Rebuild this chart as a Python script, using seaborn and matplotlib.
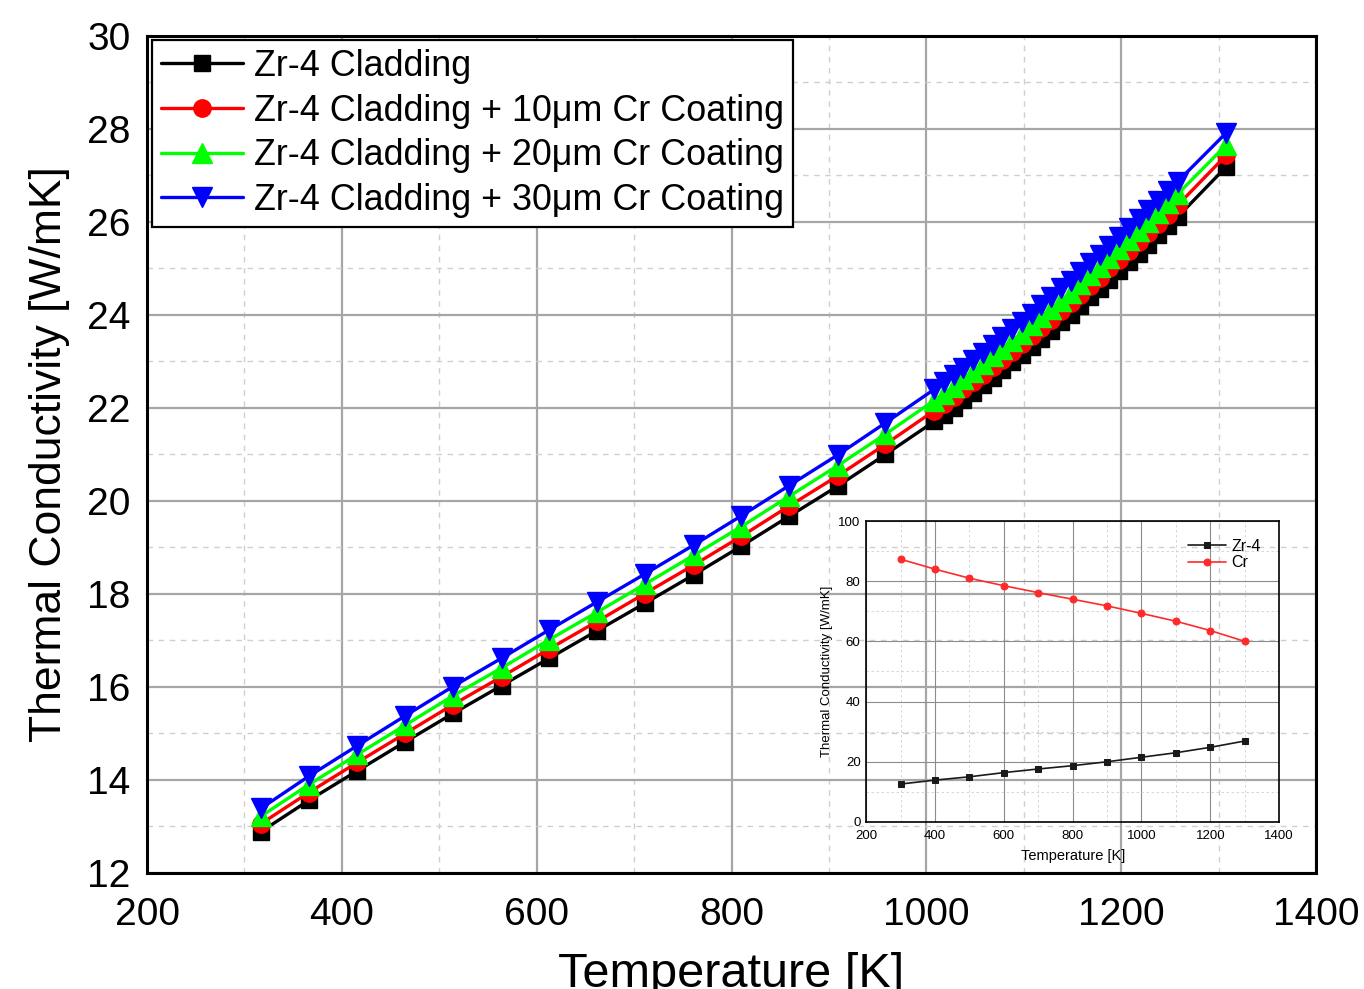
import matplotlib
matplotlib.use("Agg")
import matplotlib.pyplot as plt
from matplotlib.ticker import MultipleLocator
import seaborn as sns
import pandas as pd

# ---- main chart data: thermal conductivity of Zr-4 cladding with Cr coatings ----
temperature_k = [
    317, 366, 416, 465, 514, 564, 613, 662, 711, 761, 810, 859, 909, 958,
    1008, 1018, 1028, 1038, 1048, 1058, 1068, 1078, 1088, 1098, 1108, 1118, 1128,
    1138, 1148, 1158, 1168, 1178, 1188, 1198, 1208, 1218, 1228, 1238, 1248, 1258,
    1308,
]
zr4_cladding = [
    12.89, 13.56, 14.20, 14.82, 15.43, 16.03, 16.62, 17.21, 17.80, 18.41, 19.03, 19.67, 20.32, 21.00,
    21.71, 21.86, 22.01, 22.17, 22.33, 22.49, 22.65, 22.81, 22.98, 23.14, 23.31, 23.49, 23.66,
    23.84, 24.01, 24.19, 24.38, 24.56, 24.75, 24.94, 25.13, 25.32, 25.51, 25.71, 25.91, 26.11,
    27.19,
]
cr_10um = [
    13.06, 13.73, 14.38, 15.00, 15.62, 16.22, 16.82, 17.41, 18.01, 18.62, 19.24, 19.89, 20.54, 21.22,
    21.94, 22.09, 22.24, 22.40, 22.56, 22.72, 22.88, 23.04, 23.21, 23.38, 23.55, 23.73, 23.90,
    24.08, 24.25, 24.43, 24.62, 24.80, 25.00, 25.19, 25.38, 25.57, 25.76, 25.96, 26.16, 26.36,
    27.44,
]
cr_20um = [
    13.22, 13.90, 14.55, 15.18, 15.81, 16.41, 17.02, 17.61, 18.21, 18.83, 19.45, 20.10, 20.76, 21.44,
    22.16, 22.31, 22.46, 22.62, 22.78, 22.95, 23.11, 23.27, 23.44, 23.60, 23.78, 23.96, 24.13,
    24.31, 24.48, 24.67, 24.86, 25.04, 25.23, 25.42, 25.62, 25.81, 26.00, 26.20, 26.40, 26.60,
    27.66,
]
cr_30um = [
    13.39, 14.08, 14.74, 15.38, 16.01, 16.62, 17.23, 17.83, 18.43, 19.05, 19.68, 20.33, 20.99, 21.68,
    22.40, 22.55, 22.70, 22.87, 23.03, 23.19, 23.36, 23.52, 23.69, 23.86, 24.03, 24.21, 24.38,
    24.57, 24.74, 24.92, 25.11, 25.30, 25.49, 25.68, 25.87, 26.07, 26.26, 26.46, 26.66, 26.87,
    27.92,
]
series_labels = [
    "Zr-4 Cladding",
    "Zr-4 Cladding + 10\u03bcm Cr Coating",
    "Zr-4 Cladding + 20\u03bcm Cr Coating",
    "Zr-4 Cladding + 30\u03bcm Cr Coating",
]

# ---- inset data: bulk conductivity of the two materials ----
inset_temperature_k = [300, 400, 500, 600, 700, 800, 900, 1000, 1100, 1200, 1300]
inset_zr4 = [12.6, 13.9, 15.0, 16.4, 17.6, 18.7, 20.0, 21.5, 23.0, 24.8, 26.9]
inset_cr = [87.3, 84.0, 81.0, 78.5, 76.2, 74.0, 71.8, 69.3, 66.7, 63.6, 60.0]

sns.set_style("white")
plt.rcParams["font.family"] = ["Liberation Sans", "DejaVu Sans"]
plt.rcParams["text.color"] = "black"
plt.rcParams["axes.labelcolor"] = "black"
plt.rcParams["xtick.color"] = "black"
plt.rcParams["ytick.color"] = "black"

fig = plt.figure(figsize=(13.64, 9.89), dpi=100)
ax = fig.add_axes([0.1078, 0.1173, 0.8570, 0.8463])

styles = [
    ("#000000", "s", 11.5),
    ("#FF0000", "o", 12.5),
    ("#00FF00", "^", 14.0),
    ("#0000FF", "v", 14.0),
]
values = [zr4_cladding, cr_10um, cr_20um, cr_30um]

for label, ys, (color, marker, ms) in zip(series_labels, values, styles):
    df = pd.DataFrame({"T": temperature_k, "k": ys})
    sns.lineplot(
        data=df, x="T", y="k", ax=ax, color=color, linewidth=2.4,
        marker=marker, markersize=ms, markeredgecolor=color, markeredgewidth=1,
        label=label, sort=False, errorbar=None,
    )

ax.set_xlim(200, 1400)
ax.set_ylim(12, 30)
ax.xaxis.set_major_locator(MultipleLocator(200))
ax.xaxis.set_minor_locator(MultipleLocator(100))
ax.yaxis.set_major_locator(MultipleLocator(2))
ax.yaxis.set_minor_locator(MultipleLocator(1))

ax.set_axisbelow(True)
ax.grid(which="major", color="#a6a6a6", linewidth=1.6, linestyle="-")
ax.grid(which="minor", color="#cfcfcf", linewidth=1.0, linestyle=(0, (4, 4)))

for side in ["left", "bottom", "right", "top"]:
    ax.spines[side].set_visible(True)
    ax.spines[side].set_color("black")
    ax.spines[side].set_linewidth(2.2)

ax.tick_params(axis="both", which="major", direction="in", length=12, width=2.5,
               labelsize=28, colors="black", pad=12, top=False, right=False)
ax.tick_params(axis="x", which="major", pad=17)
ax.tick_params(axis="both", which="minor", direction="in", length=7, width=2.0,
               top=False, right=False)

ax.set_xlabel("Temperature [K]", fontsize=35, labelpad=14)
ax.set_ylabel("Thermal Conductivity [W/mK]", fontsize=32, labelpad=12)

leg = ax.legend(
    loc="upper left", bbox_to_anchor=(0.0043, 0.9952), borderaxespad=0,
    fontsize=25.8, frameon=True, fancybox=False, framealpha=1,
    edgecolor="black", handlelength=2.3, handletextpad=0.3,
    labelspacing=0.27, borderpad=0.25,
)
leg.get_frame().set_linewidth(1.6)

# ---- inset axes (transparent so the main grid shows through) ----
ins = fig.add_axes([0.635, 0.1689, 0.3028, 0.3043])
ins.set_facecolor("none")
sns.lineplot(x=inset_temperature_k, y=inset_zr4, ax=ins, color="#1a1a1a",
             linewidth=1.2, marker="s", markersize=4.5, markeredgecolor="#1a1a1a",
             label="Zr-4", sort=False, errorbar=None)
sns.lineplot(x=inset_temperature_k, y=inset_cr, ax=ins, color="#ff2a2a",
             linewidth=1.2, marker="o", markersize=5, markeredgecolor="#ff2a2a",
             label="Cr", sort=False, errorbar=None)
ins.set_xlim(200, 1400)
ins.set_ylim(0, 100)
ins.xaxis.set_major_locator(MultipleLocator(200))
ins.xaxis.set_minor_locator(MultipleLocator(100))
ins.yaxis.set_major_locator(MultipleLocator(20))
ins.yaxis.set_minor_locator(MultipleLocator(10))
ins.set_axisbelow(True)
ins.grid(which="major", color="#8c8c8c", linewidth=0.8, linestyle="-")
ins.grid(which="minor", color="#d0d0d0", linewidth=0.6, linestyle=(0, (3, 3)))
for side in ["left", "bottom", "right", "top"]:
    ins.spines[side].set_visible(True)
    ins.spines[side].set_color("black")
    ins.spines[side].set_linewidth(1.2)
ins.tick_params(axis="both", which="major", direction="in", length=4, width=1,
                labelsize=9.5, pad=4, top=False, right=False)
ins.tick_params(axis="x", which="major", pad=6)
ins.tick_params(axis="both", which="minor", direction="in", length=2, width=0.8,
                top=False, right=False)
ins.set_xlabel("Temperature [K]", fontsize=10.5, labelpad=5)
ins.set_ylabel("Thermal Conductivity [W/mK]", fontsize=9.5, labelpad=4)
ileg = ins.legend(loc="upper right", bbox_to_anchor=(0.965, 0.955), borderaxespad=0,
                  fontsize=11.5, frameon=True, fancybox=False, framealpha=0,
                  edgecolor="#333333", handlelength=2.4, handletextpad=0.3,
                  labelspacing=0.1, borderpad=0.25)
ileg.get_frame().set_linewidth(1.0)

fig.savefig("out.png", dpi=100)
